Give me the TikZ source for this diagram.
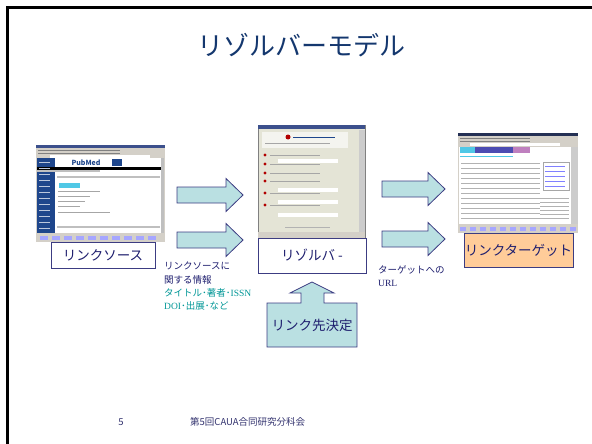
\documentclass[tikz,border=0pt]{standalone}
\usepackage{fontspec}
\setmainfont{Noto Sans CJK JP}
\newfontfamily\serifen{Liberation Serif}
\usepackage{xcolor}
\usetikzlibrary{positioning}

\definecolor{titleblue}{RGB}{20,55,110}
\definecolor{navy}{RGB}{30,30,110}
\definecolor{boxline}{RGB}{60,60,130}
\definecolor{arrowfill}{RGB}{186,224,226}
\definecolor{tealtext}{RGB}{0,150,150}
\definecolor{peach}{RGB}{255,204,153}
\definecolor{footnavy}{RGB}{50,50,110}
\definecolor{wingray}{RGB}{212,208,200}
\definecolor{winblue}{RGB}{30,70,140}
\definecolor{titlebar}{RGB}{60,80,140}
\definecolor{sfxbg}{RGB}{228,228,214}
\definecolor{webcyan}{RGB}{80,200,230}

% block arrow: start x, centre y, length
\newcommand{\blockarrow}[3]{%
  \draw[arrowbox] (#1,#2) ++(0,-8) -- ++({#3-17},0) -- ++(0,-8.5) -- ++(17,16.5)
    -- ++(-17,16.5) -- ++(0,-8.5) -- ++({-(#3-17)},0) -- cycle;}

\begin{document}
\begin{tikzpicture}[
  x=1pt, y=-1pt,
  % Boxes and arrows
  labelbox/.style={draw=boxline, fill=white, line width=0.9pt, text=navy,
    font=\fontsize{13.5}{16}\selectfont, inner sep=0pt},
  arrowbox/.style={draw=boxline, fill=arrowfill, line width=0.8pt},
  % Texts
  infotext/.style={text=navy, font=\fontsize{9.5}{13.3}\selectfont, align=left, inner sep=0pt},
  foot/.style={text=footnavy, font=\fontsize{9.5}{11}\selectfont, inner sep=0pt},
  % Screenshot parts
  txtline/.style={gray!70, line width=0.7pt},
]
  \useasboundingbox (0,0) rectangle (592,444);

  % Slide frame
  \draw[line width=2.5pt] (7.5,444) -- (7.5,7.5) -- (592,7.5);

  % Title
  \node[font=\fontsize{26}{30}\selectfont, text=titleblue] (title) at (301,45) {リゾルバーモデル};

  % PubMed screenshot
  \fill[wingray] (36,145) rectangle (165,242);
  \fill[titlebar] (36,145) rectangle (165,148);
  \foreach \yy in {150,153} \draw[gray, line width=0.6pt] (38,\yy) -- (120,\yy);
  \fill[white] (50,155) rectangle (150,157.5);
  \fill[winblue] (37,158) rectangle (55,233);
  \fill[white] (55,158) rectangle (161,233);
  \fill[gray!50] (161,158) rectangle (164,233);
  \node[font=\fontsize{7}{7}\selectfont\bfseries, text=winblue, inner sep=0pt] (pmlogo) at (86,163) {PubMed};
  \fill[winblue] (112,159) rectangle (122,166);
  \fill[black] (37,167) rectangle (161,169.5);
  \fill[gray!50] (37,170) rectangle (100,172);
  \foreach \yy in {177,227} \draw[gray!50, line width=1.5pt] (57,\yy) -- (160,\yy);
  \fill[webcyan] (59,183) rectangle (80,188);
  \foreach \yy/\xend in {191/100, 196/90, 201/85, 206/80, 212/110} \draw[txtline] (58,\yy) -- (\xend,\yy);
  \foreach \yy in {162,168,...,228} \draw[white!70!winblue, line width=0.5pt] (39,\yy) -- (50,\yy);
  \foreach \xx in {40,52,...,156} \fill[blue!35] (\xx,236) rectangle +(8,4);

  % Resolver screenshot
  \fill[sfxbg] (258,125) rectangle (365,238);
  \draw[gray] (258,125) rectangle (365,238);
  \fill[titlebar] (258,125) rectangle (365,129);
  \fill[white!60!sfxbg] (262,132) rectangle (348,148);
  \fill[red!70!black] (288,137) circle (2.5);
  \draw[winblue, line width=1pt] (293,137) -- (335,137);
  \draw[txtline] (265,143) -- (330,143);
  \foreach \yy in {155,164,173,181,193,205} {
    \fill[red!70!black] (265,\yy) circle (1.6);
    \draw[txtline] (270,\yy) -- (320,\yy);
  }
  \foreach \yy in {159,188,200,213} \fill[white] (278,\yy) rectangle (338,{\yy+4});
  \draw[gray!60, line width=0.5pt] (285,227) -- (330,227);
  \fill[gray!40] (359,130) rectangle (365,232);
  \fill[wingray] (258,232) rectangle (365,238);

  % Target screenshot
  \fill[wingray] (458,133) rectangle (578,233);
  \fill[titlebar!60!black] (458,133) rectangle (578,136);
  \foreach \yy in {138,141} \draw[gray, line width=0.5pt] (460,\yy) -- (530,\yy);
  \fill[white] (470,143) rectangle (560,146);
  \fill[white] (459,147) rectangle (571,224);
  \fill[webcyan] (460,147) rectangle (475,153);
  \fill[gray!60!blue] (475,147) rectangle (513,153);
  \fill[violet!50] (513,147) rectangle (530,153);
  \draw[webcyan, line width=0.8pt] (460,156) -- (513,156);
  \foreach \yy in {163,168,...,218} \draw[gray!60, line width=0.6pt] (461,\yy) -- (540,\yy);
  \foreach \yy in {198,202,...,218} \draw[gray!60, line width=0.6pt] (540,\yy) -- (569,\yy);
  \draw[gray!70] (543,162) rectangle (569,190);
  \foreach \yy in {166,171,...,186} \draw[blue!50, line width=0.5pt] (545,\yy) -- (565,\yy);
  \fill[gray!40] (571,147) rectangle (578,224);
  \foreach \xx in {460,470,...,570} \fill[blue!35] (\xx,227) rectangle +(6,4);

  % Labels under the screenshots
  \node[labelbox, minimum width=104pt, minimum height=26pt] (src) at (103,255) {リンクソース};
  \node[labelbox, minimum width=108pt, minimum height=35pt] (resolver) at (312,255.5) {リゾルバ -};
  \node[labelbox, fill=peach, minimum width=109pt, minimum height=34pt] (target) at (518.5,250) {リンクターゲット};

  % Arrows between them
  \blockarrow{177}{195}{66}
  \blockarrow{177}{240}{66}
  \blockarrow{382}{189}{63}
  \blockarrow{382}{239}{63}

  % Up arrow with box
  \draw[arrowbox] (267,347) -- (267,303) -- (301,303) -- (301,293) -- (290,293) -- (312,282)
    -- (334,293) -- (324,293) -- (324,303) -- (357,303) -- (357,347) -- cycle;
  \node[text=navy, font=\fontsize{13.5}{16}\selectfont] (decide) at (312,325) {リンク先決定};

  % Texts by the arrows
  \node[infotext, anchor=north west] (srcinfo) at (164,262) {リンクソースに\\関する情報\\
    \textcolor{tealtext}{タイトル･著者･{\serifen ISSN}}\\\textcolor{tealtext}{{\serifen DOI}･出展･など}};
  \node[infotext, anchor=north west] (urlinfo) at (378,265) {ターゲットへの\\{\serifen URL}};

  % Footer
  \node[foot] (pageno) at (121,422) {5};
  \node[foot, anchor=west] (event) at (190,422) {第5回CAUA合同研究分科会};
\end{tikzpicture}
\end{document}
